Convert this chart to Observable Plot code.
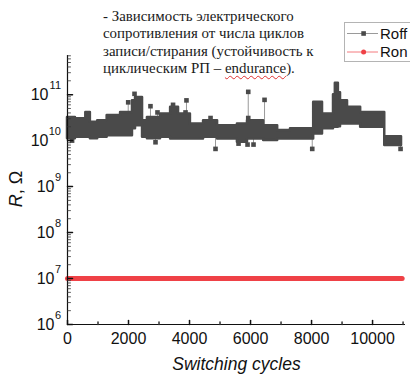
<!DOCTYPE html>
<html><head><meta charset="utf-8">
<script src="https://cdn.jsdelivr.net/npm/d3@7"></script>
<script src="https://cdn.jsdelivr.net/npm/@observablehq/plot@0.6"></script>
<style>
html,body{margin:0;padding:0;background:#fff;}
#wrap{position:relative;width:410px;height:374px;overflow:hidden;font-family:"Liberation Sans",Arial,sans-serif;color:#111;}
#title{position:absolute;left:103px;top:8px;font-family:"Liberation Serif","Times New Roman",serif;font-size:14.9px;line-height:17.4px;color:#1a1a1a;white-space:nowrap;}
.wavy{text-decoration:underline wavy #e03030;text-decoration-thickness:1px;text-underline-offset:2px;}
#legend{position:absolute;left:344px;top:22px;width:80px;height:38px;border:1px solid #b4b4b4;background:#fff;}
#ylab{position:absolute;left:16px;top:189px;transform:translate(-50%,-50%) rotate(-90deg);font-size:18px;white-space:nowrap;}
</style></head>
<body>
<div id="wrap">
  <div id="chart"></div>
  <div id="title">- Зависимость электрического<br>сопротивления от числа циклов<br>записи/стирания (устойчивость к<br>циклическим РП – <span class="wavy">endurance</span>).</div>
  <div id="legend"></div>
  <div id="ylab"><i>R</i>, Ω</div>
</div>
<script>
const roffCycle = [0, 260, 600, 750, 990, 1300, 1740, 2130, 2230, 2460, 2620, 3050, 3380, 3640, 4030, 4460, 4920, 5570, 5900, 6430, 6890, 7310, 8070, 8360, 8720, 8780, 8880, 8950, 9180, 9610, 10400, 10950];
const roffLow  = [1.1e10, 1.18e10, 1.18e10, 1.1e10, 1.18e10, 1.28e10, 1.28e10, 1.8e10, 2.1e10, 1.18e10, 1.1e10, 1.18e10, 1.09e10, 1.09e10, 1.09e10, 1.18e10, 1.09e10, 9.2e9, 1.09e10, 1.0e10, 1.09e10, 1.09e10, 1.4e10, 1.8e10, 1.95e10, 1.95e10, 2.0e10, 2.3e10, 2.3e10, 1.95e10, 7.8e9, 7.8e9];
const roffHigh = [3.2e10, 3.0e10, 4.1e10, 2.5e10, 2.7e10, 3.5e10, 4.1e10, 7.4e10, 8.7e10, 2.7e10, 3.2e10, 3.8e10, 5.3e10, 3.8e10, 2.3e10, 2.7e10, 2.1e10, 2.3e10, 2.7e10, 2.1e10, 1.65e10, 1.8e10, 6.8e10, 3.8e10, 1.0e11, 1.76e11, 1.1e11, 7.4e10, 5.3e10, 4.1e10, 1.22e10, 1.22e10];
// Roff isolated points
const outlierCycle = [150, 1990, 2197, 2720, 2885, 2950, 3460, 3900, 3869, 4689, 4852, 5607, 5925, 5925, 5902, 6098, 6459, 8023, 10918];
const outlierValue = [1.0e10, 6.8e10, 1.04e11, 5.6e10, 9.2e9, 4.1e10, 6.0e10, 7.5e10, 4.1e10, 3.1e10, 6.6e9, 8.6e9, 1.15e11, 3.1e10, 8.2e9, 8.2e9, 7.7e10, 6.6e9, 6.6e9];
// Ron
const ronCycle = [0, 10970];
const ronValue = [1e7, 1e7];
// ticks
const xTickLabels = [0, 2000, 4000, 6000, 8000, 10000];
const xMinorTicks = [1000, 3000, 5000, 7000, 9000, 11000];
const yDecades = [6, 7, 8, 9, 10, 11];
const seriesNames = ["Roff", "Ron"];
const seriesColors = ["#4a4a4a", "#ef4146"];
const seriesLineColors = ["#9a9a9a", "#f47a7e"];

const band = roffCycle.map((c, i) => ({c, lo: roffLow[i], hi: roffHigh[i]}));
function bandMid(c) {
  let i = 0;
  while (i < roffCycle.length - 1 && roffCycle[i + 1] <= c) i++;
  return Math.sqrt(roffLow[i] * roffHigh[i]);
}
const outliers = outlierCycle.map((c, i) => ({c, v: outlierValue[i], base: bandMid(c)}));
const ron = ronCycle.map((c, i) => ({c, v: ronValue[i]}));

const yDomain = [1e6, 7.1e11];
const yMajor = yDecades.map(e => 10 ** e);
const yMinor = d3.scaleLog().domain(yDomain).ticks().filter(v => !yMajor.includes(v));
const tickShape = {draw(ctx, l) { ctx.moveTo(0, 0); ctx.lineTo(0, -l); }};

const chart = Plot.plot({
  width: 410, height: 374,
  marginLeft: 67, marginRight: 5, marginTop: 55, marginBottom: 50,
  x: {domain: [0, 11080]},
  y: {type: "log", domain: yDomain, axis: null},
  style: {fontFamily: "'Liberation Sans', Arial, sans-serif", color: "#111", background: "transparent"},
  marks: [
    Plot.ruleX(outliers, {x: "c", y1: "v", y2: "base", stroke: seriesLineColors[0], strokeWidth: 1}),
    Plot.areaY(band, {x: "c", y1: "lo", y2: "hi", curve: "step-after", fill: seriesColors[0], stroke: seriesColors[0], strokeWidth: 2.5, strokeLinejoin: "round"}),
    Plot.dot(outliers, {x: "c", y: "v", symbol: "square", r: 2.6, fill: seriesColors[0]}),
    Plot.line(ron, {x: "c", y: "v", stroke: seriesColors[1], strokeWidth: 5, strokeLinecap: "round"}),
    // axis lines
    Plot.ruleX([0], {stroke: "#111", strokeWidth: 1.2}),
    Plot.ruleY([yDomain[0]], {stroke: "#111", strokeWidth: 1.2}),
    // inward ticks
    Plot.vectorY(yMajor, {frameAnchor: "left", length: 5, rotate: 90, anchor: "start", shape: tickShape, stroke: "#111"}),
    Plot.vectorY(yMinor, {frameAnchor: "left", length: 3, rotate: 90, anchor: "start", shape: tickShape, stroke: "#333", strokeWidth: 0.8}),
    Plot.vectorX(xTickLabels, {frameAnchor: "bottom", length: 4, rotate: 0, anchor: "start", shape: tickShape, stroke: "#111"}),
    Plot.vectorX(xMinorTicks, {frameAnchor: "bottom", length: 2.5, rotate: 0, anchor: "start", shape: tickShape, stroke: "#333"}),
    // tick labels
    Plot.axisX(xTickLabels, {tickSize: 0, tickPadding: 8, fontSize: 16, tickFormat: d => String(d), label: null}),
    Plot.text(yDecades.filter(e => e < 10), {y: e => 10 ** e, text: () => "10", frameAnchor: "left", textAnchor: "end", dx: -13, fontSize: 16}),
    Plot.text(yDecades.filter(e => e >= 10), {y: e => 10 ** e, text: () => "10", frameAnchor: "left", textAnchor: "end", dx: -19, fontSize: 16}),
    Plot.text(yDecades, {y: e => 10 ** e, text: e => String(e), frameAnchor: "left", textAnchor: "end", dx: -6.5, dy: -9, fontSize: 11}),
    // x axis title
    Plot.text(["Switching cycles"], {frameAnchor: "bottom", dy: 40, fontSize: 17.5, fontStyle: "italic", lineAnchor: "middle"})
  ]
});
document.getElementById("chart").appendChild(chart);

// legend
const lg = d3.select("#legend").append("svg").attr("width", 80).attr("height", 38);
seriesNames.forEach((name, i) => {
  const y = 10.5 + i * 18.5;
  lg.append("line").attr("x1", 2).attr("x2", 33).attr("y1", y).attr("y2", y).attr("stroke", seriesLineColors[i]).attr("stroke-width", 1);
  if (i === 0) lg.append("rect").attr("x", 16.3).attr("y", y - 2.3).attr("width", 4.6).attr("height", 4.6).attr("fill", seriesColors[i]);
  else lg.append("circle").attr("cx", 18.6).attr("cy", y).attr("r", 2.5).attr("fill", seriesColors[i]);
  lg.append("text").attr("x", 35).attr("y", y).attr("dy", "0.36em").attr("font-size", 15).attr("font-family", "'Liberation Sans', Arial, sans-serif").attr("fill", "#111").text(name);
});
</script>
</body></html>
